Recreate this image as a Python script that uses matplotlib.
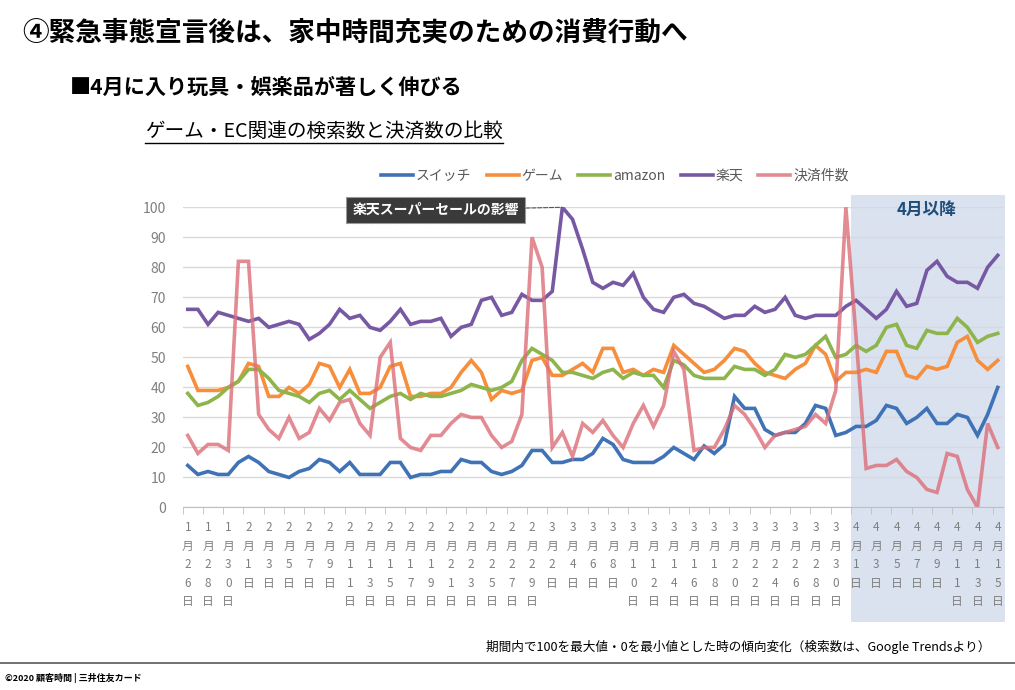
import matplotlib
matplotlib.use("Agg")
import matplotlib.pyplot as plt
import matplotlib.transforms as mtransforms
from matplotlib.patches import Rectangle
from matplotlib.lines import Line2D
import numpy as np
import pandas as pd

plt.rcParams['font.family'] = ['Noto Sans CJK JP', 'DejaVu Sans']

# 1/26 - 4/15 (daily)
dates = pd.date_range('2020-01-26', '2020-04-15', freq='D')

switch = [14, 11, 12, 11, 11, 15, 17, 15, 12, 11, 10, 12, 13, 16, 15, 12, 15, 11, 11, 11,
          15, 15, 10, 11, 11, 12, 12, 16, 15, 15, 12, 11, 12, 14, 19, 19, 15, 15, 16, 16,
          18, 23, 21, 16, 15, 15, 15, 17, 20, 18, 16, 20.5, 18, 21, 37, 33, 33, 26, 24, 25,
          25, 28, 34, 33, 24, 25, 27, 27, 29, 34, 33, 28, 30, 33, 28, 28, 31, 30, 24, 31, 40]
game = [47, 39, 39, 39, 40, 42, 48, 47, 37, 37, 40, 38, 41, 48, 47, 40, 46, 38, 38, 40,
        47, 48, 37, 37, 38, 38, 40, 45, 49, 45, 36, 39, 38, 39, 49, 50, 44, 44, 46, 48,
        45, 53, 53, 45, 46, 44, 46, 45, 54, 51, 48, 45, 46, 49, 53, 52, 48, 45, 44, 43,
        46, 48, 54, 51, 42, 45, 45, 46, 45, 52, 52, 44, 43, 47, 46, 47, 55, 57, 49, 46, 49]
amazon = [38, 34, 35, 37, 40, 42, 46, 46, 43, 39, 38, 37, 35, 38, 39, 36, 39, 36, 33, 35,
          37, 38, 36, 38, 37, 37, 38, 39, 41, 40, 39, 40, 42, 49, 53, 51, 49, 45, 45, 44,
          43, 45, 46, 43, 45, 44, 44, 40, 49, 47.5, 44, 43, 43, 43, 47, 46, 46, 44, 46, 51,
          50, 51, 54, 57, 50, 51, 54, 52, 54, 60, 61, 54, 53, 59, 58, 58, 63, 60, 55, 57, 58]
rakuten = [66, 66, 61, 65, 64, 63, 62, 63, 60, 61, 62, 61, 56, 58, 61, 66, 63, 64, 60, 59,
           62, 66, 61, 62, 62, 63, 57, 60, 61, 69, 70, 64, 65, 71, 69, 69, 72, 100, 96, 86,
           75, 73, 75, 74, 78, 70, 66, 65, 70, 71, 68, 67, 65, 63, 64, 64, 67, 65, 66, 70,
           64, 63, 64, 64, 64, 67, 69, 66, 63, 66, 72, 67, 68, 79, 82, 77, 75, 75, 73, 80, 84]
payments = [24, 18, 21, 21, 19, 82, 82, 31, 26, 23, 30, 23, 25, 33, 29, 35, 36, 28, 24, 50,
            55, 23, 20, 19, 24, 24, 28, 31, 30, 30, 24, 20, 22, 31, 90, 80, 20, 25, 17, 28,
            25, 29, 24, 20, 28, 34, 27, 34, 52, 46, 19, 20, 20, 26, 34, 31, 26, 20, 24, 25,
            26, 27, 31, 28, 39, 100, 57, 13, 14, 14, 16, 12, 10, 6, 5, 18, 17, 6, 0, 28, 20]

series_names = ['スイッチ', 'ゲーム', 'amazon', '楽天', '決済件数']
series_colors = ['#3F73B5', '#F68E3C', '#8DB54C', '#7759A3', '#DC6E78']

x = np.arange(len(dates))
tick_labels = ['\n'.join(f"{d.month}月{d.day}日") for d in dates[::2]]

fig = plt.figure(figsize=(10.15, 6.9), dpi=100)
ax = fig.add_axes([0.180, 0.2645, 0.808, 0.4351])
ax.patch.set_alpha(0)

# April shading (goes under the tick labels too)
blend = mtransforms.blended_transform_factory(ax.transData, fig.transFigure)
fig.add_artist(Rectangle((65.5, 0.098), 15.2, 0.619, transform=blend,
                         facecolor='#DAE2F0', edgecolor='none', zorder=-1))

for vals, name, col in zip([switch, game, amazon, rakuten, payments], series_names, series_colors):
    alpha = 0.8 if name == '決済件数' else 1.0
    ax.plot(x, vals, color=col, lw=2.6, label=name, alpha=alpha, solid_joinstyle='miter')

ax.set_xlim(-0.5, 80.5)
ax.set_ylim(0, 100)
ax.set_yticks(np.arange(0, 101, 10))
ax.grid(axis='y', color='#D9D9D9', lw=1)
ax.set_axisbelow(True)
for s in ['top', 'right', 'left']:
    ax.spines[s].set_visible(False)
ax.spines['bottom'].set_color('#BFBFBF')
ax.tick_params(axis='y', length=0, pad=12, labelsize=10, labelcolor='#7F7F7F')

ax.set_xticks(x[::2])
ax.set_xticklabels(tick_labels, fontsize=8.5, color='#7F7F7F', linespacing=1.55, va='top')
ax.set_xticks(np.arange(-0.5, 80, 2), minor=True)
ax.tick_params(axis='x', which='major', length=0, pad=10)
ax.tick_params(axis='x', which='minor', length=5, color='#BFBFBF')

fig.legend(loc='center', bbox_to_anchor=(615 / 1015, 1 - 176 / 690), ncol=5, frameon=False,
           fontsize=10, handlelength=2.3, handletextpad=0.2, columnspacing=1.1,
           labelcolor='#595959')

ax.annotate('楽天スーパーセールの影響', xy=(37, 100), xytext=(-91, -2),
            textcoords='offset points', ha='center', va='center',
            fontsize=10, color='white', fontweight='bold',
            bbox=dict(boxstyle='square,pad=0.45', fc='#3A3A3A', ec='#9A9A9A', ls='--', lw=0.8),
            arrowprops=dict(arrowstyle='-', ls='--', color='#555555', lw=0.8,
                            shrinkA=0, shrinkB=0), annotation_clip=False)

ax.text(73, 99, '4月以降', ha='center', va='center', fontsize=12,
        fontweight='bold', color='#1F4E79')

fig.text(22 / 1015, 1 - 33 / 690, '④緊急事態宣言後は、家中時間充実のための消費行動へ',
         fontsize=19.2, fontweight='bold', va='center', ha='left')
fig.text(70 / 1015, 1 - 87 / 690, '■4月に入り玩具・娯楽品が著しく伸びる',
         fontsize=15.2, fontweight='bold', va='center', ha='left')
sub = fig.text(145 / 1015, 1 - 131 / 690, 'ゲーム・EC関連の検索数と決済数の比較',
               fontsize=14.1, va='center', ha='left')

fig.text(990 / 1015, 1 - 647 / 690,
         '期間内で100を最大値・0を最小値とした時の傾向変化（検索数は、Google Trendsより）',
         fontsize=9.1, ha='right', va='center')
fig.add_artist(Line2D([0, 1], [1 - 663 / 690] * 2, color='#595959', lw=1.2))
fig.text(5 / 1015, 1 - 678 / 690, '©2020 顧客時間 | 三井住友カード', fontsize=6.5,
         fontweight='bold', ha='left', va='center')

# underline for the chart caption
renderer = fig.canvas.get_renderer()
bb = sub.get_window_extent(renderer).transformed(fig.transFigure.inverted())
fig.add_artist(Line2D([bb.x0, bb.x1], [bb.y0 - 0.002] * 2, color='black', lw=1))

fig.savefig('out.png', dpi=100)
